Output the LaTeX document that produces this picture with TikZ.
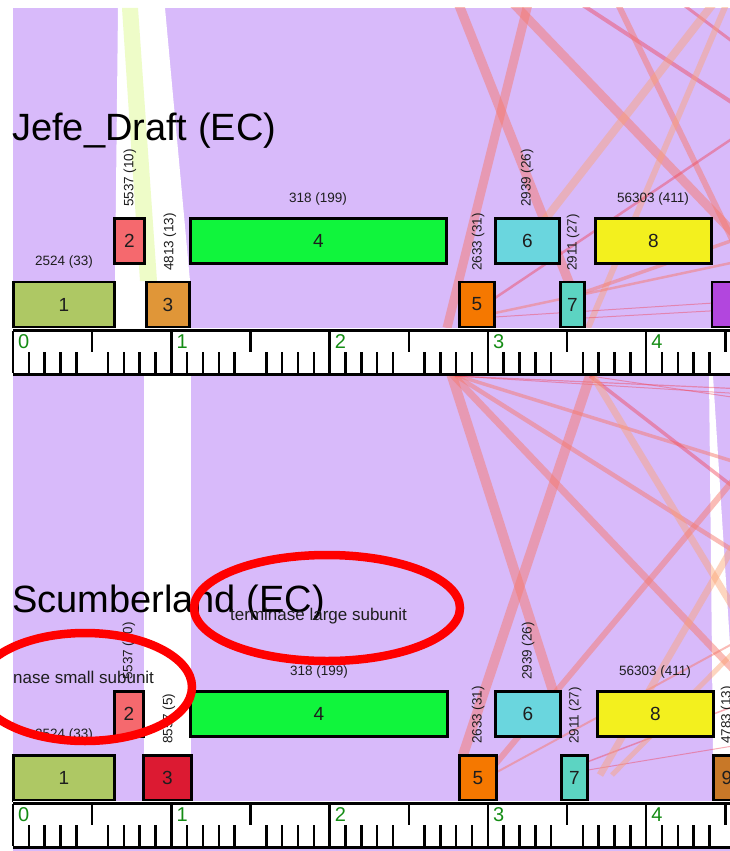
\documentclass[tikz,border=0pt]{standalone}
\usepackage{fontspec}
\setmainfont{Liberation Sans}
\definecolor{bgpurple}{RGB}{216,186,250}
\definecolor{ystripe}{RGB}{238,252,200}
\definecolor{lpink}{RGB}{246,122,110}
\definecolor{lpeach}{RGB}{252,162,115}
\definecolor{lred}{RGB}{240,70,90}
\definecolor{gOlive}{RGB}{174,200,100}
\definecolor{gSalmon}{RGB}{245,105,110}
\definecolor{gOchre}{RGB}{224,150,56}
\definecolor{gGreen}{RGB}{16,245,60}
\definecolor{gOrange}{RGB}{245,120,0}
\definecolor{gCyan}{RGB}{106,214,222}
\definecolor{gTeal}{RGB}{92,212,194}
\definecolor{gYellow}{RGB}{243,240,30}
\definecolor{gViolet}{RGB}{178,70,222}
\definecolor{gCrimson}{RGB}{220,26,50}
\definecolor{gBrown}{RGB}{200,120,40}
\definecolor{rgreen}{RGB}{20,140,20}
\definecolor{txt}{RGB}{30,30,30}
\newcommand\phruler[2]{%
  \fill[white] (13,#1) rectangle (760,#1+48);
  \foreach \i in {0,...,47}{%
    \pgfmathsetmacro\xx{13+\i*15.83}%
    \pgfmathtruncatemacro\mm{mod(\i,10)}%
    \pgfmathtruncatemacro\hh{mod(\i,5)}%
    \ifnum\mm=0
      \draw[rtick] (\xx,#1+3) -- (\xx,#1+45);
      \pgfmathtruncatemacro\kb{\i/10}%
      \node[rnum] (#2\kb) at (\xx+5,#1+20) {\kb};
    \else\ifnum\hh=0
      \draw[rtick] (\xx,#1+3) -- (\xx,#1+24);
    \else
      \draw[rtick] (\xx,#1+24) -- (\xx,#1+45);
    \fi\fi
  }
  \draw[line width=3.2pt] (13,#1+2.5) -- (760,#1+2.5);
  \draw[line width=3.2pt] (13,#1+46.5) -- (760,#1+46.5);
}
\begin{document}
\begin{tikzpicture}[x=1pt,y=-1pt,
  gene/.style={draw=black, line width=2.3pt, inner sep=0pt, minimum height=45,
    font=\fontsize{19}{19}\selectfont, text=txt},
  glab/.style={font=\fontsize{13.5}{14}\selectfont, inner sep=0pt, text=txt, anchor=base},
  vlab/.style={font=\fontsize{13.5}{14}\selectfont, inner sep=0pt, text=txt, rotate=90, anchor=west},
  rtick/.style={line width=2.5pt, black},
  rnum/.style={font=\fontsize{20}{20}\selectfont, text=rgreen, inner sep=0pt, anchor=base west},
  ttl/.style={font=\fontsize{38}{38}\selectfont, text=black, inner sep=0pt, anchor=base west},
  note/.style={font=\fontsize{17}{17}\selectfont, text=txt, inner sep=0pt, anchor=base west},
  ring/.style={draw=red, line width=8.5pt},
  pl/.style={draw=lpink, opacity=0.5, line width=#1},
  ol/.style={draw=lpeach, opacity=0.45, line width=#1},
  rl/.style={draw=lred, opacity=0.45, line width=#1}
]
\useasboundingbox (0,0) rectangle (730,851);
\clip (0,0) rectangle (730,851);
% background and homology regions
\fill[bgpurple] (13,8) rectangle (760,851);
\fill[white] (118,8) -- (165,8) -- (190,281) -- (190,328) -- (115,328) -- (115,281) -- cycle;
\fill[ystripe] (122,8) -- (138,8) -- (157,281) -- (140,281) -- cycle;
\fill[white] (144,370) rectangle (191,801);
\fill[white] (709,376) -- (713,376) -- (737,755) -- (713,755) -- cycle;
% links
\begin{scope}
\clip (13,8) rectangle (760,851);
% upper part (from the genome above)
\coordinate (u1a) at (457,0);   \coordinate (u1b) at (572,290);
\coordinate (u2a) at (529,0);   \coordinate (u2b) at (447,328);
\coordinate (u3a) at (510,0);   \coordinate (u3b) at (745,245);
\coordinate (u4a) at (575,0);   \coordinate (u4b) at (745,111);
\coordinate (u5a) at (616,0);   \coordinate (u5b) at (745,266);
\coordinate (u6a) at (677,0);   \coordinate (u6b) at (745,51);
\coordinate (u7a) at (716,0);   \coordinate (u7b) at (540,226);
\coordinate (u8a) at (728,0);   \coordinate (u8b) at (588,328);
\coordinate (u9a) at (745,130); \coordinate (u9b) at (495,298);
\coordinate (u10a) at (745,236);\coordinate (u10b) at (585,292);
\coordinate (u11a) at (495,317);\coordinate (u11b) at (745,301);
\coordinate (u12a) at (585,318);\coordinate (u12b) at (745,309);
\coordinate (u13a) at (495,313);\coordinate (u13b) at (745,260);
\draw[pl=9.5] (u1a) -- (u1b);
\draw[pl=9] (u2a) -- (u2b);
\draw[pl=9] (u3a) -- (u3b);
\draw[rl=4] (u4a) -- (u4b);
\draw[pl=6] (u5a) -- (u5b);
\draw[rl=3] (u6a) -- (u6b);
\draw[ol=8] (u7a) -- (u7b);
\draw[ol=6] (u8a) -- (u8b);
\draw[rl=2.5] (u9a) -- (u9b);
\draw[pl=3.5] (u10a) -- (u10b);
\draw[rl=1] (u11a) -- (u11b);
\draw[rl=1] (u12a) -- (u12b);
\draw[pl=2.5] (u13a) -- (u13b);
% middle part (Jefe_Draft to Scumberland)
\coordinate (m1a) at (450,370); \coordinate (m1b) at (553,691);
\coordinate (m2a) at (448,370); \coordinate (m2b) at (745,682);
\coordinate (m3a) at (450,372); \coordinate (m3b) at (745,558);
\coordinate (m4a) at (455,375); \coordinate (m4b) at (745,465);
\coordinate (m5a) at (455,376); \coordinate (m5b) at (745,389);
\coordinate (m5c) at (745,394);
\coordinate (m5d) at (590,376); \coordinate (m5e) at (745,399);
\coordinate (m6a) at (592,370); \coordinate (m6b) at (463,755);
\coordinate (m7a) at (590,376); \coordinate (m7b) at (745,496);
\coordinate (m8a) at (593,376); \coordinate (m8b) at (745,627);
\coordinate (m9a) at (493,767); \coordinate (m9b) at (745,466);
\coordinate (m10a) at (497,772);\coordinate (m10b) at (745,637);
\coordinate (m11a) at (587,762);\coordinate (m11b) at (745,702);
\coordinate (m12a) at (588,770);\coordinate (m12b) at (745,744);
\coordinate (m13a) at (600,775);\coordinate (m13b) at (745,526);
\coordinate (m14a) at (612,775);\coordinate (m14b) at (745,641);
\draw[pl=10] (m1a) -- (m1b);
\draw[pl=7] (m2a) -- (m2b);
\draw[pl=4.5] (m3a) -- (m3b);
\draw[pl=3.5] (m4a) -- (m4b);
\draw[rl=1.2] (m5a) -- (m5b);
\draw[rl=1] (m5a) -- (m5c);
\draw[rl=1] (m5d) -- (m5e);
\draw[pl=10] (m6a) -- (m6b);
\draw[rl=3.5] (m7a) -- (m7b);
\draw[ol=7] (m8a) -- (m8b);
\draw[pl=6] (m9a) -- (m9b);
\draw[pl=2] (m10a) -- (m10b);
\draw[rl=1.5] (m11a) -- (m11b);
\draw[rl=1] (m12a) -- (m12b);
\draw[ol=7] (m13a) -- (m13b);
\draw[ol=5] (m14a) -- (m14b);
\end{scope}
% genes of Jefe_Draft
\node[gene, fill=gOlive,  minimum width=101] (t1) at (64,304.5) {1};
\node[gene, fill=gSalmon, minimum width=30]  (t2) at (129.5,241) {2};
\node[gene, fill=gOchre,  minimum width=43]  (t3) at (168,304.5) {3};
\node[gene, fill=gGreen,  minimum width=256] (t4) at (318.5,241) {4};
\node[gene, fill=gOrange, minimum width=35]  (t5) at (477,304.5) {5};
\node[gene, fill=gCyan,   minimum width=64]  (t6) at (527.5,241) {6};
\node[gene, fill=gTeal,   minimum width=24]  (t7) at (572.5,304.5) {7};
\node[gene, fill=gYellow, minimum width=116] (t8) at (653.5,241) {8};
\node[gene, fill=gViolet, minimum width=50]  (t9) at (737,304.5) {};
\node[glab] (lt1) at (64,265) {2524 (33)};
\node[vlab] (lt2) at (130,207) {5537 (10)};
\node[vlab] (lt3) at (170,271) {4813 (13)};
\node[glab] (lt4) at (318,202) {318 (199)};
\node[vlab] (lt5) at (478,271) {2633 (31)};
\node[vlab] (lt6) at (527,207) {2939 (26)};
\node[vlab] (lt7) at (573,271) {2911 (27)};
\node[glab] (lt8) at (653,202) {56303 (411)};
% genes of Scumberland
\node[gene, fill=gOlive,   minimum width=101] (b1) at (64,778) {1};
\node[gene, fill=gSalmon,  minimum width=29]  (b2) at (129,714) {2};
\node[gene, fill=gCrimson, minimum width=48]  (b3) at (167.5,778) {3};
\node[gene, fill=gGreen,   minimum width=257] (b4) at (319,714) {4};
\node[gene, fill=gOrange,  minimum width=37]  (b5) at (478,778) {5};
\node[gene, fill=gCyan,    minimum width=65]  (b6) at (528,714) {6};
\node[gene, fill=gTeal,    minimum width=26]  (b7) at (574.5,778) {7};
\node[gene, fill=gYellow,  minimum width=116] (b8) at (655.5,714) {8};
\node[gene, fill=gBrown,   minimum width=27]  (b9) at (727,778) {9};
\node[glab] (lb1) at (64,738) {2524 (33)};
\node[vlab] (lb2) at (129,680) {5537 (10)};
\node[vlab] (lb3) at (169,744) {8557 (5)};
\node[glab] (lb4) at (319,675) {318 (199)};
\node[vlab] (lb5) at (478,744) {2633 (31)};
\node[vlab] (lb6) at (528,680) {2939 (26)};
\node[vlab] (lb7) at (575,744) {2911 (27)};
\node[glab] (lb8) at (655,675) {56303 (411)};
\node[vlab] (lb9) at (727,744) {4783 (13)};
% rulers
\phruler{328}{rt}
\phruler{801}{rb}
% titles
\node[ttl] (title1) at (12,140) {Jefe\_Draft (EC)};
\node[ttl] (title2) at (12,612) {Scumberland (EC)};
% annotations
\node[note] (n1) at (230,620) {terminase large subunit};
\node[note] (n2) at (13,683) {nase small subunit};
\draw[ring] (327,608) ellipse [x radius=133, y radius=53];
\draw[ring] (85,687) ellipse [x radius=107, y radius=54];
\end{tikzpicture}
\end{document}
